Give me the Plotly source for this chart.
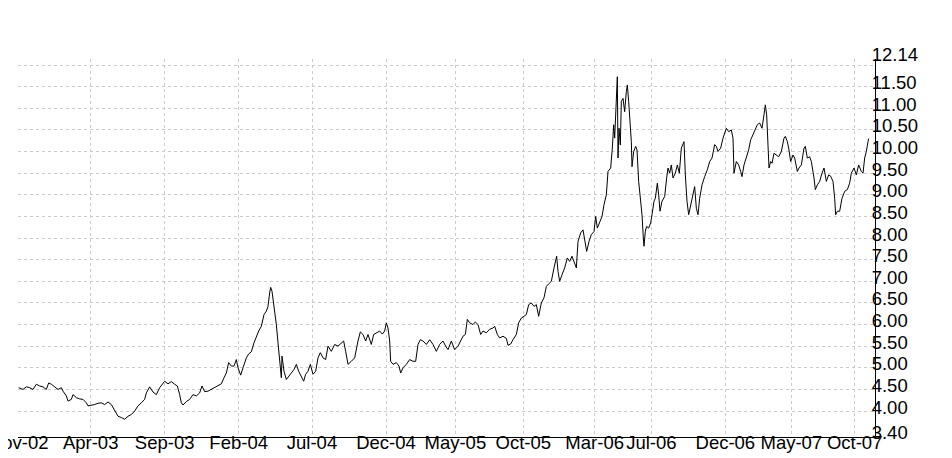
import plotly.graph_objects as go

# Trading-day index (0 = start of Nov-02) and closing price
days = [
    0, 6.5, 11.5, 16.5, 21.5, 26.5, 31.5, 36.5, 41.5, 45, 49, 54, 59, 64, 66.5, 71.5, 74, 79, 81.5, 86.5,
    91.5, 96.5, 101.5, 104, 109, 114, 119, 124, 129, 134, 139, 144, 149, 154, 159, 164, 169, 174, 179, 184,
    189, 191.5, 196.5, 201.5, 206.5, 211.5, 216.5,
    219, 224, 229, 234, 238, 241.5, 244, 246.5, 251.5, 256.5, 261.5, 266.5, 271.5, 275, 279, 284, 289, 294,
    299, 304, 308, 311.5, 315, 319, 323, 326.5, 329, 333, 336.5, 341.5, 345, 349, 353, 356.5, 360, 364, 368,
    371.5, 374, 376.5, 378, 380, 383, 386.5, 389, 391.5, 394, 395, 398, 401.5, 405, 409, 413, 416.5, 420,
    424, 427.5, 430.5, 434,
    437.5, 441.5, 445.5, 449, 452.5, 456.5, 460.5, 464, 469, 474, 479, 484, 487.5, 490.5, 494, 499, 504, 509,
    512.5, 516.5, 520.5, 524, 529, 532.5, 536.5, 541.5, 545.5, 549, 551.5, 554, 556.5, 558, 561.5, 566.5,
    570.5, 573, 576.5, 581.5, 586.5, 591.5, 595.5, 599, 602.5, 606.5, 611.5, 616.5, 621.5, 626.5, 631.5,
    636.5, 640.5, 644, 649, 654, 659, 664,
    666.5, 670, 673, 676.5, 681.5, 685, 689, 693, 696.5, 701.5, 706.5, 711.5, 714, 718, 721.5, 726.5, 731.5,
    734, 738, 741.5, 746.5, 750, 754, 758, 761.5, 765, 769, 773, 776.5, 780, 784, 788, 791.5, 795, 799, 803,
    807, 809, 811.5, 815, 819, 823, 826.5, 830, 834, 836.5, 839, 843, 846.5, 849, 852, 855.5, 859, 863,
    865.5, 868, 871.5, 875, 878, 881.5, 884, 888, 890.5, 892.5, 894, 896.5, 898, 899,
    900.5, 902.5, 904, 906.5, 909, 911.5, 913, 915, 917, 919, 920, 922.5, 925.5, 927.5, 930, 933, 935, 937,
    938, 940, 942, 945, 948, 950, 953, 955, 958, 960, 962, 965, 969, 972, 974, 976.5, 979, 981.5, 985, 988,
    991, 994, 998, 1000, 1002.5, 1005, 1008, 1011.5, 1014, 1016.5, 1019, 1021.5, 1025, 1029, 1033, 1036.5,
    1040, 1044, 1046.5, 1049, 1053, 1056.5, 1059, 1061.5, 1065, 1069, 1071.5, 1073, 1076.5, 1080, 1083,
    1085, 1088, 1091.5, 1095, 1098, 1101.5, 1105, 1108, 1111.5, 1115, 1118, 1120, 1122, 1123, 1124, 1125.5,
    1128, 1130, 1133, 1136.5, 1140, 1144, 1148, 1150, 1153, 1155, 1158, 1161.5, 1164, 1168, 1170.5, 1174,
    1178, 1180, 1183, 1186.5, 1189, 1193, 1195, 1198, 1201.5, 1205, 1208, 1211.5, 1215, 1218, 1221.5, 1224,
    1225.5, 1228, 1231.5, 1235, 1239, 1243, 1246.5, 1249, 1253, 1256.5, 1260, 1264, 1266.5, 1269, 1271.5,
    1274, 1275,
]
prices = [
    4.54, 4.50, 4.56, 4.54, 4.50, 4.62, 4.58, 4.56, 4.50, 4.65, 4.62, 4.56, 4.50, 4.54, 4.46, 4.35, 4.23, 4.27, 4.38, 4.31,
    4.28, 4.27, 4.19, 4.12, 4.13, 4.15, 4.18, 4.19, 4.15, 4.21, 4.15, 4.00, 3.88, 3.85, 3.81, 3.88, 3.92, 4.00, 4.12, 4.19,
    4.27, 4.42, 4.56, 4.44, 4.38, 4.54, 4.65,
    4.69, 4.63, 4.68, 4.62, 4.58, 4.38, 4.19, 4.14, 4.22, 4.27, 4.38, 4.35, 4.42, 4.58, 4.45, 4.46, 4.50, 4.55,
    4.58, 4.63, 4.77, 4.88, 5.12, 5.04, 5.04, 5.19, 5.00, 4.83, 5.00, 5.23, 5.32, 5.37, 5.58, 5.73, 5.85, 5.96, 6.23,
    6.31, 6.42, 6.73, 6.86, 6.77, 6.46, 6.00, 5.58, 5.23, 4.77, 5.27, 4.92, 4.73, 4.81, 4.88, 4.96, 5.08, 4.92,
    4.81, 4.69, 4.85, 4.92,
    5.08, 4.85, 4.92, 5.23, 5.35, 5.23, 5.19, 5.50, 5.38, 5.54, 5.50, 5.58, 5.62, 5.38, 5.08, 5.15, 5.23, 5.62,
    5.83, 5.77, 5.62, 5.77, 5.54, 5.77, 5.81, 5.85, 5.78, 5.85, 6.04, 5.92, 5.62, 5.15, 5.08, 5.12,
    5.04, 4.88, 5.00, 5.08, 5.19, 5.15, 5.15, 5.54, 5.65, 5.62, 5.54, 5.65, 5.54, 5.38, 5.54,
    5.62, 5.50, 5.42, 5.62, 5.42, 5.50, 5.65,
    5.73, 5.77, 6.12, 6.04, 6.00, 6.06, 6.00, 5.77, 5.85, 5.81, 5.89, 5.92, 5.96, 5.77, 5.69, 5.73, 5.68,
    5.52, 5.55, 5.65, 5.77, 6.04, 6.15, 6.19, 6.23, 6.46, 6.50, 6.42, 6.46, 6.19, 6.50, 6.62, 6.88, 6.94, 7.00, 7.31,
    7.58, 7.23, 7.00, 7.15, 7.31, 7.54, 7.46, 7.58, 7.39, 7.31, 7.92, 8.12, 8.19, 8.00, 7.69, 7.92, 8.08, 8.15,
    8.50, 8.23, 8.39, 8.50, 8.77, 9.00, 9.54, 9.62, 10.08, 10.62, 10.31, 11.54, 11.73, 9.85,
    10.54, 10.15, 11.16, 11.23, 10.92, 11.39, 11.54, 11.16, 10.77, 10.23, 9.65, 10.00, 10.12, 10.04, 9.31, 8.92, 8.54, 8.00,
    7.81, 8.16, 8.27, 8.23, 8.35, 8.54, 8.85, 8.92, 9.27, 9.00, 8.62, 8.85, 8.96, 9.39, 9.62, 9.50, 9.69, 9.39, 9.50, 9.69,
    9.50, 10.08, 10.23, 9.46, 8.85, 8.54, 8.77, 9.08, 9.19, 8.69, 8.54, 8.92, 9.23, 9.42, 9.58, 9.77,
    9.85, 10.16, 10.12, 10.00, 10.08, 10.31, 10.42, 10.54, 10.46, 10.50, 10.31, 9.50, 9.77, 9.69, 9.54,
    9.42, 9.69, 9.85, 10.04, 10.27, 10.39, 10.54, 10.62, 10.66, 10.54, 10.85, 11.08, 10.85, 10.39, 9.92, 9.62,
    9.77, 9.73, 9.96, 9.92, 9.88, 10.00, 10.31, 10.35, 10.23, 10.08, 9.77, 9.92, 9.85, 9.54, 9.62, 9.69,
    10.08, 10.12, 9.85, 9.88, 9.77, 9.39, 9.12, 9.23, 9.31, 9.50, 9.62, 9.31, 9.46, 9.43, 9.31, 8.92,
    8.54, 8.62, 8.62, 8.92, 9.08, 9.12, 9.27, 9.50, 9.62, 9.46, 9.69, 9.54, 9.50, 9.85, 10.00,
    10.23, 10.30,
]

tick_days = [0, 108, 219, 330, 440, 551, 655, 757, 864, 949, 1060, 1159, 1254]
tick_labels = ["Nov-02", "Apr-03", "Sep-03", "Feb-04", "Jul-04", "Dec-04", "May-05",
               "Oct-05", "Mar-06", "Jul-06", "Dec-06", "May-07", "Oct-07"]
y_ticks = [3.40, 4.00, 4.50, 5.00, 5.50, 6.00, 6.50, 7.00, 7.50, 8.00, 8.50, 9.00,
           9.50, 10.00, 10.50, 11.00, 11.50, 12.00, 12.14]
y_labels = ["3.40", "4.00", "4.50", "5.00", "5.50", "6.00", "6.50", "7.00", "7.50", "8.00",
            "8.50", "9.00", "9.50", "10.00", "10.50", "11.00", "11.50", "", "12.14"]

fig = go.Figure()
fig.add_trace(go.Scatter(x=days, y=prices, mode="lines",
                         line=dict(color="black", width=1), hoverinfo="skip"))

font = dict(family="Liberation Sans, Arial, sans-serif", size=18.5, color="black")
fig.update_layout(
    width=952, height=458,
    margin=dict(l=10, r=85, t=51, b=29, pad=0),
    paper_bgcolor="white", plot_bgcolor="white",
    showlegend=False,
    font=font,
    xaxis=dict(
        range=[-1, 1284.5], tickmode="array", tickvals=tick_days, ticktext=tick_labels,
        showgrid=True, gridcolor="#cccccc", gridwidth=1, griddash="3px,3px",
        showline=True, linecolor="black", linewidth=1, zeroline=False,
        ticks="", ticklen=0, automargin=False, tickfont=font,
        ticklabelstandoff=-11, ticklabeloverflow="allow",
    ),
    yaxis=dict(
        range=[3.40, 12.14], side="right", tickmode="array", tickvals=y_ticks, ticktext=y_labels,
        showgrid=True, gridcolor="#cccccc", gridwidth=1, griddash="3px,3px",
        showline=True, linecolor="black", linewidth=1, zeroline=False,
        ticks="", ticklen=0, automargin=False, tickfont=font, ticklabelshift=-4,
        ticklabelstandoff=-8, ticklabeloverflow="allow",
    ),
)

fig.write_html("out.html")
